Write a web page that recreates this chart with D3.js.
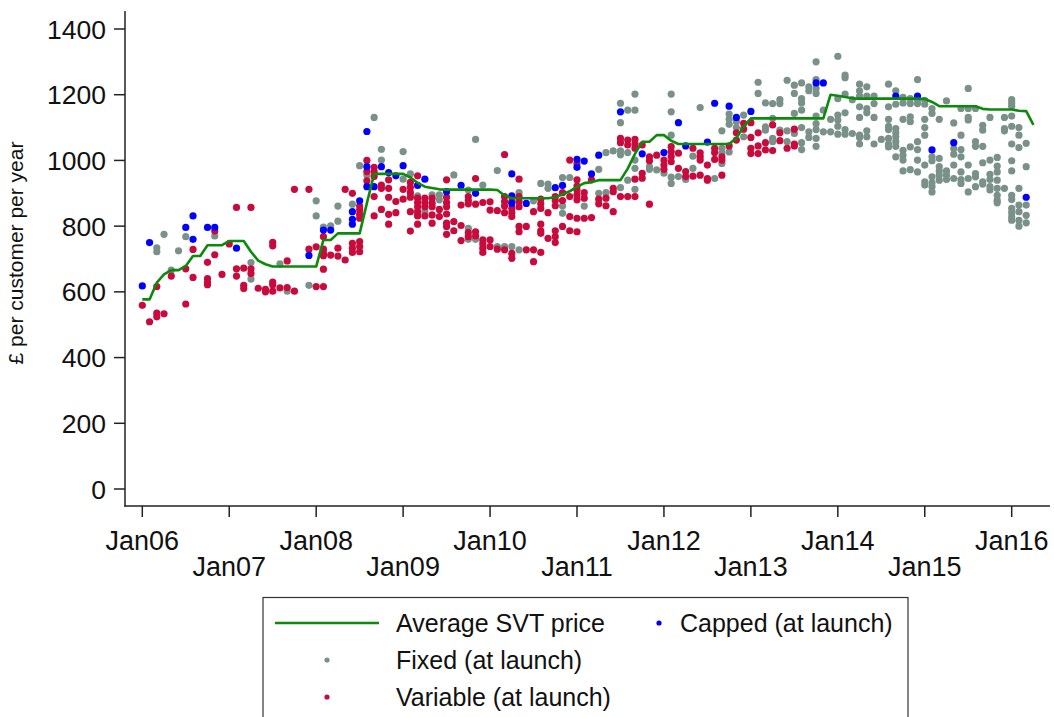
<!DOCTYPE html>
<html>
<head>
<meta charset="utf-8">
<script src="https://cdn.jsdelivr.net/npm/d3@7"></script>
<style>
  body { margin: 0; background: #fff; }
  text { font-family: "Liberation Sans", Arial, sans-serif; fill: #111; }
</style>
</head>
<body>
<script>
// months since Jan06
var tickMonths = [0, 12, 24, 36, 48, 60, 72, 84, 96, 108, 120];
var tickLabels = ["Jan06", "Jan07", "Jan08", "Jan09", "Jan10", "Jan11", "Jan12", "Jan13", "Jan14", "Jan15", "Jan16"];
var yTicks = [0, 200, 400, 600, 800, 1000, 1200, 1400];

// average SVT price, monthly Jan06 - Apr16
var svt = [
  577, 577, 628, 653, 666, 666, 679, 709, 709, 742, 742, 742,
  755, 755, 755, 722, 695, 684, 677, 677, 677, 677, 677, 677,
  677, 758, 758, 778, 778, 778, 778, 870, 959, 959, 959, 959,
  959, 948, 932, 920, 916, 912, 911, 911, 911, 911, 911, 911,
  911, 910, 893, 885, 885, 885, 885, 885, 885, 888, 897, 906,
  920, 931, 934, 940, 940, 940, 940, 975, 1020, 1057, 1057, 1077,
  1077, 1060, 1050, 1050, 1050, 1050, 1050, 1050, 1050, 1050, 1068, 1103,
  1128, 1128, 1128, 1128, 1128, 1128, 1128, 1128, 1128, 1128, 1128, 1200,
  1197, 1193, 1189, 1188, 1188, 1188, 1188, 1188, 1188, 1188, 1188, 1188,
  1187, 1178, 1165, 1165, 1165, 1165, 1165, 1165, 1157, 1155, 1155, 1155,
  1155, 1151, 1150, 1108
];

// [month, price]
var fixedPts = [
  [2,734],[2,722],[3,775],[4,666],[5,725],[6,768],[10,770],[15,689],[15,639],[19,685],
  [20,602],[23,620],[24,877],[24,831],[25,797],[26,801],[27,861],[27,815],[29,867],[30,984],
  [31,956],[32,1131],[33,1034],[33,1001],[36,1027],[36,943],[37,959],[37,895],[38,892],[38,834],
  [39,844],[40,895],[41,895],[41,880],[43,956],[45,910],[45,793],[45,760],[46,1064],[46,760],
  [47,925],[49,969],[49,738],[50,738],[51,738],[52,902],[52,728],[54,877],[55,930],[56,928],
  [56,915],[58,948],[58,861],[58,839],[59,948],[61,861],[63,973],[63,900],[64,1024],[64,902],
  [65,1029],[66,1174],[66,1115],[66,1029],[66,1017],[66,917],[67,1153],[67,1024],[67,940],
  [68,1202],[68,1153],[68,1001],[68,976],[68,912],[70,981],[70,973],[71,971],[72,961],
  [73,1202],[73,1148],[73,1077],[73,949],[73,930],[74,951],[75,942],[76,1013],[76,976],
  [77,1161],[79,945],[80,1090],[80,1037],[80,1023],[80,991],[81,1141],[81,1125],[81,1110],[81,1026],
  [82,1118],[82,1100],[83,1138],[83,1072],[85,1238],[85,1204],[86,1175],[86,1102],[86,1092],
  [87,1173],[87,1128],[87,1067],[87,1057],[88,1185],[88,1173],[88,1092],[89,1244],[89,1090],[89,1057],
  [90,1229],[90,1204],[90,1143],[90,1082],[91,1236],[91,1188],[91,1175],[91,1153],[91,1100],[91,1054],[91,1033],
  [92,1224],[92,1212],[92,1087],[92,1070],[93,1300],[93,1246],[93,1219],[93,1204],[93,1135],[93,1112],
  [93,1094],[93,1067],[93,1043],[94,1153],[94,1087],[95,1125],[95,1087],
  [96,1317],[96,1188],[96,1138],[96,1123],[96,1104],[96,1080],[97,1260],[97,1252],[97,1202],[97,1145],
  [97,1094],[97,1080],[98,1185],[98,1082],[99,1232],[99,1212],[99,1196],[99,1163],[99,1131],[99,1077],
  [99,1070],[99,1050],[100,1224],[100,1196],[100,1158],[100,1145],[100,1090],[100,1072],
  [101,1196],[101,1173],[101,1131],[101,1050],[102,1064],[103,1232],[103,1163],[103,1125],[103,1104],
  [103,1094],[103,1067],[103,1050],[103,1041],[104,1212],[104,1171],[104,1097],[104,1084],[104,1072],
  [104,1057],[104,1043],[104,1011],[105,1192],[105,1175],[105,1125],[105,1031],[105,1016],[105,1001],[105,968],
  [106,1188],[106,1173],[106,1133],[106,1118],[106,1041],[106,972],[107,1246],[107,1185],[107,1173],
  [107,1057],[107,1033],[107,1001],[107,965],[108,1183],[108,1171],[108,1125],[108,1100],[108,1077],
  [108,986],[108,935],[108,925],[109,1158],[109,1143],[109,1011],[109,999],[109,950],[109,932],[109,920],[109,904],
  [110,1125],[110,1006],[110,981],[110,968],[110,955],[110,940],[111,1181],[111,968],[111,955],[111,942],
  [112,1114],[112,1036],[112,1019],[112,986],[112,945],[113,1158],[113,1077],[113,1033],[113,1011],[113,965],
  [113,942],[113,930],[114,1219],[114,1158],[114,1131],[114,1123],[114,986],[114,945],[114,904],
  [115,1158],[115,1057],[115,1043],[115,960],[115,950],[115,920],[116,1107],[116,1092],[116,1043],[116,993],
  [116,935],[116,928],[117,1131],[117,1001],[117,958],[117,942],[117,920],[117,910],
  [118,1009],[118,983],[118,965],[118,940],[118,915],[118,894],[118,879],[118,871],
  [119,1131],[119,1097],[119,1090],[119,915],[120,1185],[120,1175],[120,1165],[120,1135],[120,1104],
  [120,1050],[120,999],[120,968],[120,894],[120,881],[120,854],[120,841],[120,828],[120,818],
  [121,1100],[121,1077],[121,1039],[121,915],[121,864],[121,844],[121,818],[121,800],
  [122,1052],[122,981],[122,864],[122,833],[122,810]
];

var variablePts = [
  [0,559],[1,509],[2,616],[2,535],[2,524],[3,533],[4,648],[6,670],[6,563],[7,729],[7,644],
  [9,690],[9,640],[9,628],[9,622],[10,785],[10,713],[11,653],[12,746],[13,857],[15,857],
  [13,670],[13,648],[14,672],[14,620],[14,610],[15,670],[15,656],[18,751],[18,740],[18,630],
  [18,622],[16,611],[17,608],[17,600],[18,602],[19,612],[20,694],[20,613],[21,602],[21,912],
  [23,912],[24,616],[25,616],[23,730],[24,737],[25,768],[25,730],[25,718],[25,710],[25,669],
  [26,712],[27,733],[27,709],[28,697],[28,912],
  [29,900],[29,748],[29,733],[29,720],[30,861],[30,849],[30,836],[30,824],[30,753],[30,738],[30,722],
  [31,1000],[31,966],[31,938],[32,979],[32,966],[32,951],[32,890],[32,831],[33,925],[33,915],[33,851],
  [34,941],[34,915],[34,888],[34,836],[34,806],[35,875],[35,841],[36,912],[36,882],
  [37,933],[37,918],[37,903],[37,888],[37,844],[37,785],[38,953],[38,885],[38,872],[38,859],[38,844],[38,831],[38,806],
  [39,885],[39,872],[39,859],[39,831],[40,885],[40,870],[40,859],[40,834],[40,809],[41,851],[41,829],
  [42,941],[42,888],[42,872],[42,859],[42,837],[42,809],[42,799],[42,775],[43,814],[43,786],
  [44,864],[44,802],[44,756],[45,890],[45,878],[45,868],[45,780],[45,768],[46,945],[46,867],[46,783],[46,770],
  [47,872],[47,758],[47,746],[47,733],[47,720],[48,874],[48,849],[48,758],[48,738],[49,847],[49,730],
  [50,1018],[50,890],[50,875],[50,861],[50,841],[50,728],[51,875],[51,854],[51,841],[51,829],[51,717],[51,702],
  [52,943],[52,890],[52,875],[52,859],[52,799],[52,783],[53,799],[53,728],[54,844],[54,728],[54,692],
  [55,882],[55,868],[55,854],[55,806],[55,786],[55,778],[55,720],[56,841],[56,763],
  [57,890],[57,878],[57,862],[57,786],[57,768],[57,750],[58,902],[58,878],[58,799],
  [59,1001],[59,890],[59,829],[59,786],[60,990],[60,941],[60,922],[60,910],[60,895],[60,880],[60,824],[60,783],
  [61,902],[61,885],[61,824],[62,941],[62,826],[63,882],[63,868],[64,885],[64,862],[65,915],[65,905],[65,844],
  [66,1067],[66,1054],[66,890],[67,1062],[67,1047],[67,890],[68,1064],[68,1050],[68,1037],[68,943],[68,890],
  [69,1047],[69,961],[69,946],[70,1011],[70,999],[70,867],[71,1016],[72,1001],[72,986],[72,973],
  [73,1042],[73,1027],[73,1012],[73,996],[74,1022],[74,976],[75,966],[75,951],[76,1037],[76,952],
  [77,1023],[77,1012],[77,1001],[77,955],[78,986],[78,945],[78,940],[79,1037],[79,1024],[79,1003],
  [80,1011],[80,1001],[80,955],[81,1044],[82,1084],[82,1062],[83,1113],[83,1095],
  [84,1115],[84,1070],[84,1037],[84,1021],[85,1084],[85,1044],[85,1021],[86,1054],[86,1032],
  [87,1108],[87,1030],[88,1084],[88,1060],[89,1037],[90,1095],[90,1050],[90,1044]
];

var cappedPts = [
  [0,618],[1,750],[7,831],[6,796],[7,760],[9,796],[10,796],[13,733],[23,711],[25,788],[26,788],
  [29,844],[29,821],[29,806],[30,877],[31,1088],[31,981],[31,920],[32,920],[33,981],[34,963],
  [35,953],[36,984],[38,924],[39,943],[42,905],[44,924],[46,900],[51,959],[51,892],[51,869],
  [53,869],[57,917],[58,924],[60,1003],[60,979],[61,998],[62,959],[63,1016],[66,1148],[69,1020],
  [72,1024],[74,1115],[75,1044],[78,1056],[79,1174],[81,1165],[82,1131],[84,1149],[93,1236],
  [94,1236],[104,1196],[107,1196],[109,1032],[112,1054],[122,888]
];

function init(){
    var w = 1054;
    var h = 717;
    var grey = "#7a918a",
        red = "#c80a3c",
        blue = "#0000ff",
        green = "#0b8a0b";

    var xScale = d3.scaleLinear()
                   .domain([0, 120])
                   .range([142.3, 1011.7]);

    var yScale = d3.scaleLinear()
                   .domain([0, 1400])
                   .range([489, 29]);

    var svg = d3.select("body")
                .append("svg")
                .attr("width", w)
                .attr("height", h);

    // axes drawn by hand, Stata style
    var axisColor = "#222";
    svg.append("line")
       .attr("x1", 125).attr("x2", 125)
       .attr("y1", 11).attr("y2", 506.5)
       .attr("stroke", axisColor).attr("stroke-width", 1.5);
    svg.append("line")
       .attr("x1", 124.25).attr("x2", 1050)
       .attr("y1", 506).attr("y2", 506)
       .attr("stroke", axisColor).attr("stroke-width", 1.5);

    var yAxis = svg.append("g");
    yAxis.selectAll("line")
         .data(yTicks)
         .enter()
         .append("line")
         .attr("x1", 114).attr("x2", 125)
         .attr("y1", function(d) { return yScale(d); })
         .attr("y2", function(d) { return yScale(d); })
         .attr("stroke", axisColor).attr("stroke-width", 1.5);
    yAxis.selectAll("text")
         .data(yTicks)
         .enter()
         .append("text")
         .attr("x", 106)
         .attr("y", function(d) { return yScale(d); })
         .attr("dy", "0.36em")
         .attr("text-anchor", "end")
         .style("font-size", "26.5px")
         .text(function(d) { return d; });

    var xAxis = svg.append("g");
    xAxis.selectAll("line")
         .data(tickMonths)
         .enter()
         .append("line")
         .attr("x1", function(d) { return xScale(d); })
         .attr("x2", function(d) { return xScale(d); })
         .attr("y1", 506).attr("y2", 517)
         .attr("stroke", axisColor).attr("stroke-width", 1.5);
    xAxis.selectAll("text")
         .data(tickMonths)
         .enter()
         .append("text")
         .attr("x", function(d) { return xScale(d); })
         .attr("y", function(d, i) { return i % 2 == 0 ? 550 : 576; })
         .attr("text-anchor", "middle")
         .style("font-size", "27px")
         .text(function(d, i) { return tickLabels[i]; });

    svg.append("text")
       .attr("transform", "translate(23,253) rotate(-90)")
       .attr("text-anchor", "middle")
       .style("font-size", "21px")
       .text("£ per customer per year");

    //points
    function dots(data, color) {
        svg.append("g")
           .selectAll("circle")
           .data(data)
           .enter()
           .append("circle")
           .attr("cx", function(d) { return xScale(d[0]); })
           .attr("cy", function(d) { return yScale(d[1]); })
           .attr("r", 3.6)
           .attr("fill", color);
    }
    dots(fixedPts, grey);
    dots(variablePts, red);
    dots(cappedPts, blue);

    var line = d3.line()
                 .x(function(d, i) { return xScale(i); })
                 .y(function(d) { return yScale(d); });
    svg.append("path")
       .datum(svt)
       .attr("d", line)
       .attr("fill", "none")
       .attr("stroke", green)
       .attr("stroke-width", 2.6)
       .attr("stroke-linejoin", "round");

    // legend
    var lg = svg.append("g");
    lg.append("rect")
      .attr("x", 263).attr("y", 597.5)
      .attr("width", 645).attr("height", 140)
      .attr("fill", "none")
      .attr("stroke", "#333").attr("stroke-width", 1.2);
    lg.append("line")
      .attr("x1", 275).attr("x2", 379)
      .attr("y1", 623).attr("y2", 623)
      .attr("stroke", green).attr("stroke-width", 2.6);
    var items = [
        { label: "Average SVT price", x: 396, y: 623 },
        { label: "Capped (at launch)", x: 680, y: 623, color: blue, cx: 659 },
        { label: "Fixed (at launch)", x: 396, y: 660, color: grey, cx: 327 },
        { label: "Variable (at launch)", x: 396, y: 697, color: red, cx: 327 }
    ];
    lg.selectAll("text")
      .data(items)
      .enter()
      .append("text")
      .attr("x", function(d) { return d.x; })
      .attr("y", function(d) { return d.y; })
      .attr("dy", "0.36em")
      .style("font-size", "25px")
      .text(function(d) { return d.label; });
    lg.selectAll("circle")
      .data(items.filter(function(d) { return d.color; }))
      .enter()
      .append("circle")
      .attr("cx", function(d) { return d.cx; })
      .attr("cy", function(d) { return d.y; })
      .attr("r", 2.6)
      .attr("fill", function(d) { return d.color; });
}
window.onload = init;
</script>
</body>
</html>
